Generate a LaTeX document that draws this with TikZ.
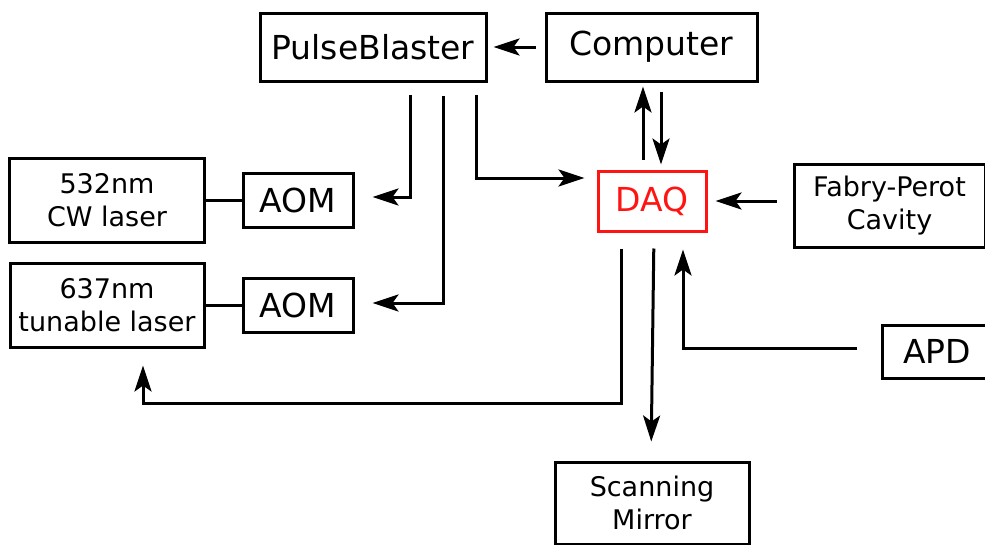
\documentclass[tikz,border=0pt]{standalone}
\usepackage{fontspec}
\setmainfont{DejaVu Sans}
\usetikzlibrary{arrows.meta,calc}
\definecolor{daqred}{RGB}{255,20,20}
\tikzset{
  box/.style={draw, line width=3pt, inner sep=0pt, align=center},
  big/.style={font=\fontsize{33}{39}\selectfont},
  small/.style={font=\fontsize{27}{33}\selectfont},
  arr/.style={line width=3pt, -{Stealth[length=26pt,width=17pt,inset=6pt]}},
  link/.style={line width=3pt}
}
\begin{document}
\begin{tikzpicture}[x=1pt,y=-1pt]
\clip (0,0) rectangle (985,544);
\useasboundingbox (0,0) rectangle (985,544);
% blocks
\node[box,big,minimum width=226,minimum height=68] (pb) at (373,47) {PulseBlaster};
\node[box,big,minimum width=211,minimum height=68] (comp) at (651.5,47) {Computer};
\node[box,small,minimum width=195,minimum height=84] (laser1) at (107,200) {532nm\\CW laser};
\node[box,big,minimum width=110,minimum height=54] (aom1) at (298,200) {AOM};
\node[box,small,minimum width=194,minimum height=84] (laser2) at (107,305) {637nm\\tunable laser};
\node[box,big,minimum width=110,minimum height=54] (aom2) at (298,305) {AOM};
\node[box,big,draw=daqred,text=daqred,minimum width=108,minimum height=60] (daq) at (652,201) {DAQ};
\node[box,small,minimum width=191,minimum height=83] (fp) at (889.5,205.5) {Fabry-Perot\\Cavity};
\node[box,big,minimum width=110,minimum height=53] (apd) at (937,351.5) {APD};
\node[box,small,minimum width=194,minimum height=82] (mirror) at (652,503) {Scanning\\Mirror};
% laser to modulator links
\draw[link] (laser1.east) -- (aom1.west);
\draw[link] (laser2.east) -- (aom2.west);
% pulse generator outputs
\coordinate (p1) at (410,95);
\coordinate (p2) at (443,96);
\coordinate (p3) at (476,95);
\draw[arr,shorten >=18pt] (p1) |- ([yshift=3]aom1.east);
\draw[arr,shorten >=18pt] (p2) |- ([yshift=2]aom2.east);
\draw[arr,shorten >=12pt] (p3) |- ([yshift=23]daq.west);
% computer connections
\draw[arr,shorten <=9pt,shorten >=6pt] (comp.west) -- (pb.east);
\draw[arr,shorten <=10pt,shorten >=4pt] ([xshift=-9]daq.north) -- ([xshift=-9]daq.north |- comp.south);
\draw[arr,shorten <=9pt,shorten >=5pt] ([xshift=9]daq.north |- comp.south) -- ([xshift=9]daq.north);
% inputs to DAQ
\draw[arr,shorten <=16pt,shorten >=8pt] (fp.west |- daq.east) -- (daq.east);
\draw[arr,shorten <=24pt,shorten >=17pt] ([yshift=3.5]apd.west) -| ([xshift=31]daq.south);
% DAQ outputs
\draw[arr,shorten <=16pt,shorten >=17pt] ([xshift=-31]daq.south) -- ++(0,171) -| ([xshift=36]laser2.south);
\draw[arr,shorten <=16pt,shorten >=19pt] ([xshift=2]daq.south) -- ([xshift=-1]mirror.north);
\end{tikzpicture}
\end{document}
